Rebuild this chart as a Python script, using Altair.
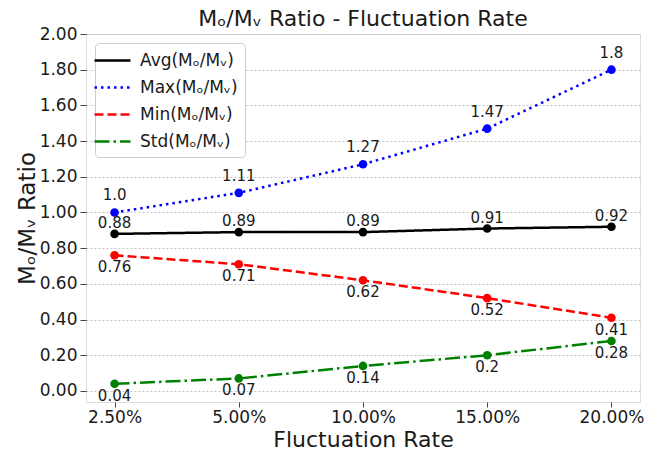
import altair as alt
import pandas as pd

rates = ["2.50%", "5.00%", "10.00%", "15.00%", "20.00%"]
avg_vals = [0.88, 0.89, 0.89, 0.91, 0.92]
max_vals = [1.0, 1.11, 1.27, 1.47, 1.8]
min_vals = [0.76, 0.71, 0.62, 0.52, 0.41]
std_vals = [0.04, 0.07, 0.14, 0.2, 0.28]
series_names = ["Avg(Mₒ/Mᵥ)", "Max(Mₒ/Mᵥ)", "Min(Mₒ/Mᵥ)", "Std(Mₒ/Mᵥ)"]
label_side = ["above", "above2", "below", "below"]
colors = ["#000000", "#0000ff", "#ff0000", "#008000"]
dashes = [[1, 0], [2.5, 4], [9, 4], [15, 4, 2.5, 4]]
y_ticks = [0.0, 0.2, 0.4, 0.6, 0.8, 1.0, 1.2, 1.4, 1.6, 1.8, 2.0]

rows = []
for name, side, vals in zip(series_names, label_side, [avg_vals, max_vals, min_vals, std_vals]):
    for r, v in zip(rates, vals):
        rows.append({"series": name, "rate": r, "value": v, "label": str(v), "side": side})
df = pd.DataFrame(rows)

FONT = "DejaVu Sans"
TXT = "#1a1a1a"

x_enc = alt.X("rate:N", sort=rates, scale=alt.Scale(type="point", padding=0.23),
              axis=alt.Axis(title="Fluctuation Rate", labelAngle=0, labelFontSize=17,
                            titleFontSize=22, titleFontWeight="normal", labelColor=TXT,
                            titleColor=TXT, tickColor="#444", domain=False, tickSize=5,
                            labelPadding=2, titleBaseline="alphabetic", titleY=44, grid=False))
y_enc = alt.Y("value:Q", scale=alt.Scale(domain=[-0.062, 2.0], nice=False, zero=False),
              axis=alt.Axis(title="Mₒ/Mᵥ Ratio", values=y_ticks, format=".2f", labelFontSize=17,
                            titleFontSize=23, titleFontWeight="normal", labelColor=TXT,
                            titleColor=TXT, tickColor="#444", domain=False, tickSize=6,
                            labelPadding=3, titleBaseline="alphabetic", titleX=-52,
                            grid=True, gridDash=[2, 2], gridColor="#b5b5b5", gridWidth=0.8))

legend = alt.Legend(title=None, orient="none", legendX=9, legendY=9, padding=7,
                    fillColor="white", strokeColor="#cccccc", cornerRadius=4,
                    labelFontSize=17, labelFont=FONT, labelColor=TXT,
                    symbolType="M-2,0H2", symbolSize=324, symbolStrokeWidth=2.5,
                    labelOffset=17, rowPadding=8)

color_enc = alt.Color("series:N", scale=alt.Scale(domain=series_names, range=colors), legend=legend)
dash_enc = alt.StrokeDash("series:N", scale=alt.Scale(domain=series_names, range=dashes), legend=legend)

base = alt.Chart(df)

lines = base.mark_line(strokeWidth=2.5).encode(x=x_enc, y=y_enc, color=color_enc, strokeDash=dash_enc)
points = base.mark_circle(size=75, opacity=1).encode(
    x=x_enc, y=y_enc,
    color=alt.Color("series:N", scale=alt.Scale(domain=series_names, range=colors), legend=None))

def labels(side, dy):
    return base.transform_filter(alt.datum.side == side).mark_text(
        dy=dy, fontSize=15, font=FONT, color=TXT).encode(x=x_enc, y=y_enc, text="label:N")

chart = alt.layer(
    lines, points,
    labels("above", -11), labels("above2", -17), labels("below", 12),
).properties(
    width=554, height=368,
    title=alt.TitleParams("Mₒ/Mᵥ Ratio - Fluctuation Rate", fontSize=22, font=FONT,
                          fontWeight="normal", color=TXT, offset=0, dy=6),
    autosize=alt.AutoSizeParams(type="none"),
    padding={"left": 86, "top": 34, "right": 17, "bottom": 48},
).configure_view(stroke="#555", strokeWidth=1).configure_axis(
    labelFont=FONT, titleFont=FONT
).configure(font=FONT)

chart.save("out.html", embed_options={"renderer": "svg", "actions": False})
